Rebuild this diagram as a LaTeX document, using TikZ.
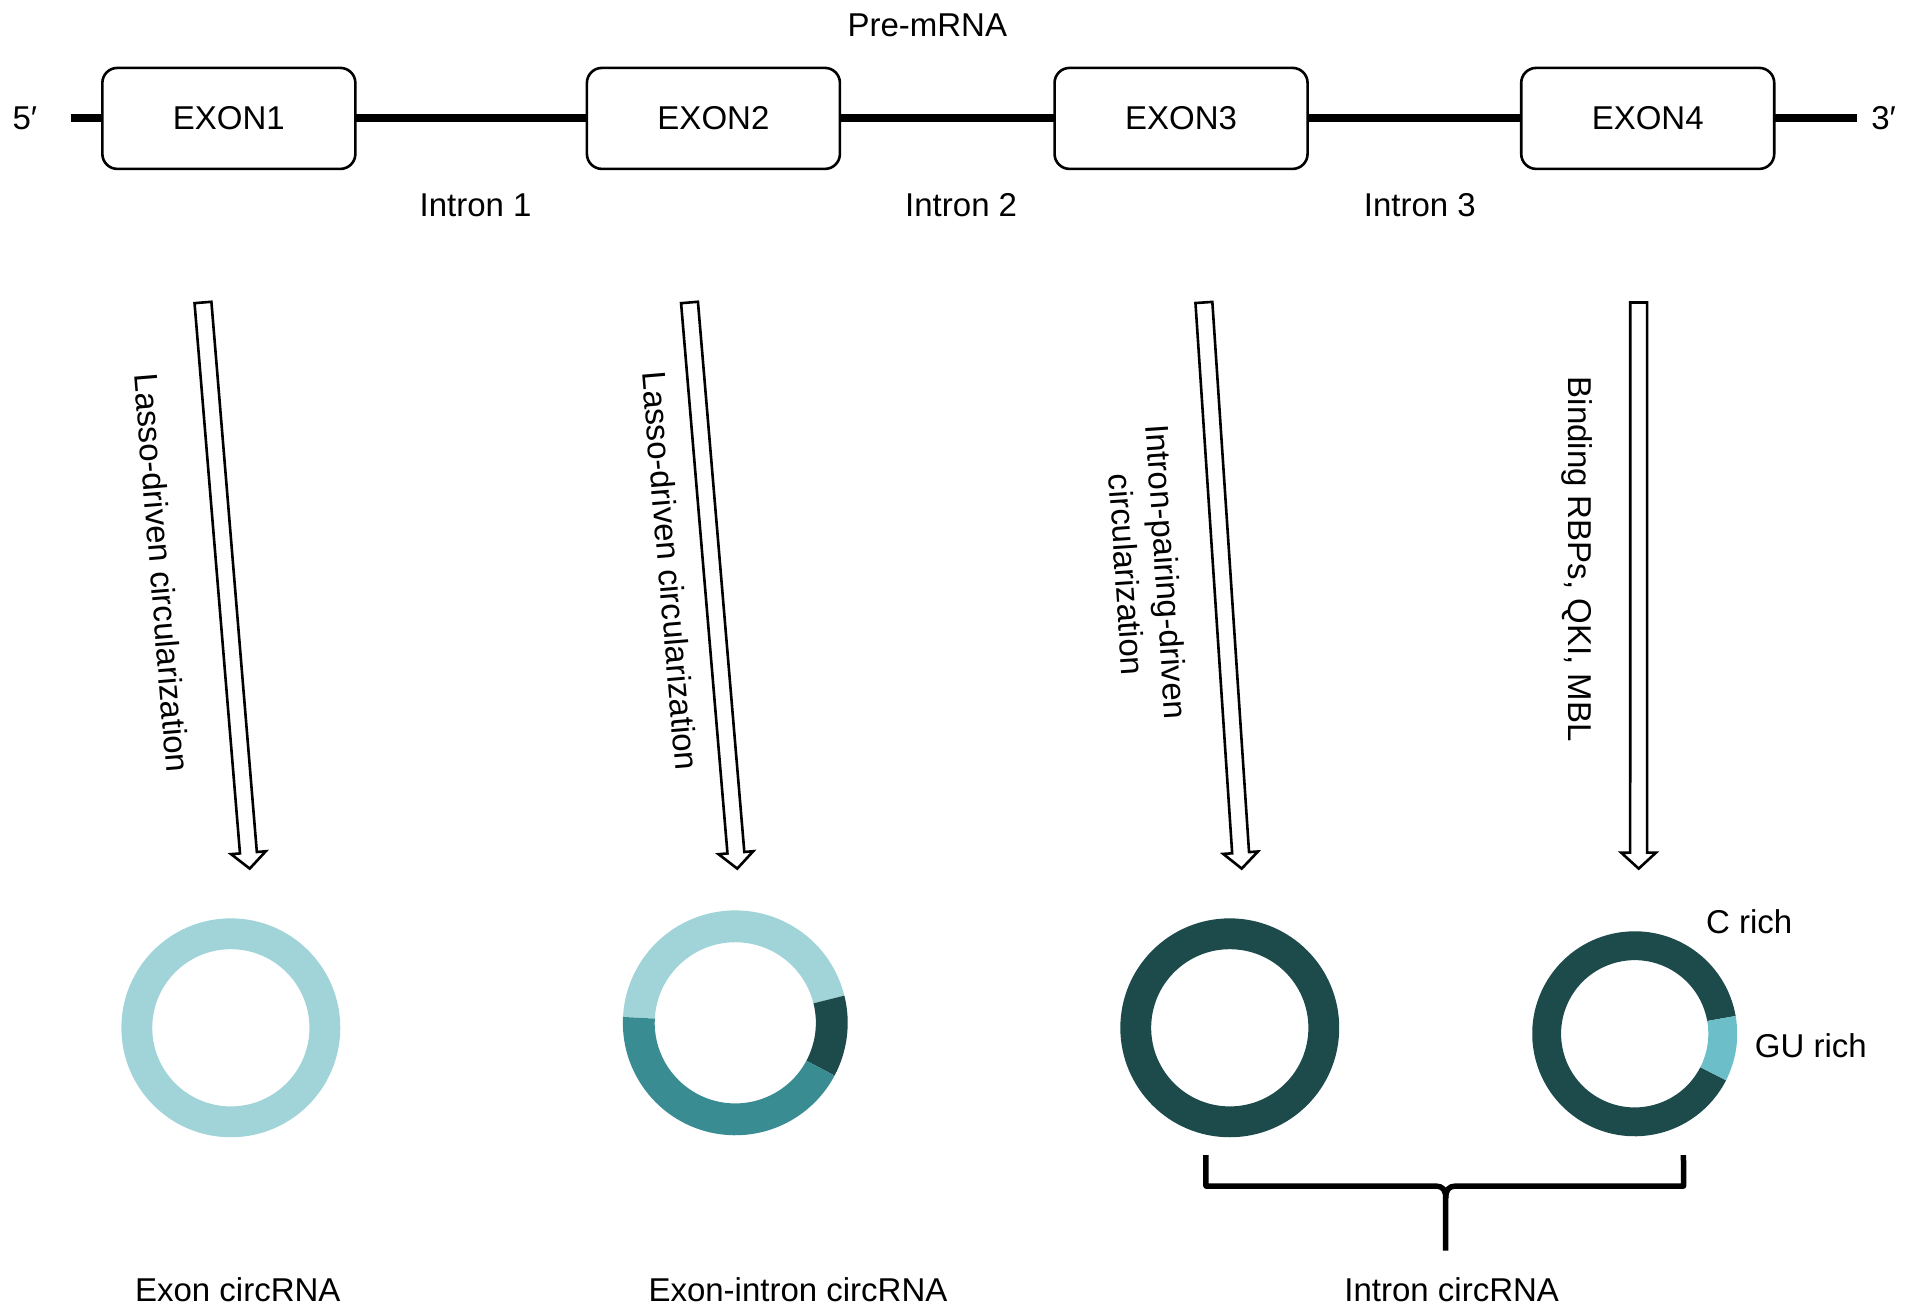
\documentclass[tikz,border=0pt]{standalone}
\usepackage{fontspec}
\setmainfont{Liberation Sans}
\usetikzlibrary{calc}
\definecolor{lightteal}{HTML}{A0D4D9}
\definecolor{midteal}{HTML}{3A8C93}
\definecolor{darkteal}{HTML}{1D4A4B}
\definecolor{gucol}{HTML}{6CBFC8}
\newcommand{\ringseg}[6]{%
  \fill[#6] ($(#1)+(#4:#2)$) arc[start angle=#4, end angle=#5, radius=#2]
    -- ($(#1)+(#5:#3)$) arc[start angle=#5, end angle=#4, radius=#3] -- cycle;}
\newcommand{\harrow}[2]{%
  \coordinate (hh) at ($(#2)!16pt!(#1)$);
  \draw[hollowarrow] ($(#1)!8.5pt!90:(#2)$) -- ($(hh)!8.5pt!90:(#2)$)
    -- ($(hh)!17.5pt!90:(#2)$) -- (#2) -- ($(hh)!17.5pt!-90:(#2)$)
    -- ($(hh)!8.5pt!-90:(#2)$) -- ($(#1)!8.5pt!-90:(#2)$) -- cycle;}
\tikzset{
  lbl/.style={font=\fontsize{33}{40}\selectfont, inner sep=0pt, align=center},
  exonbox/.style={draw, line width=2.6pt, rounded corners=15pt, minimum width=253pt,
    minimum height=101pt, inner sep=0pt, font=\fontsize{33}{40}\selectfont, fill=white},
  hollowarrow/.style={draw, line width=2.6pt, fill=white, line join=miter},
  backbone/.style={line width=8pt},
  bracket/.style={line width=5.5pt, line join=round}
}
\begin{document}
\begin{tikzpicture}[x=1pt, y=-1pt]
\useasboundingbox (0,0) rectangle (1913,1315);
\begin{scope}[scale=0.995]
% backbone
\coordinate (b5) at (71,119);
\coordinate (b3) at (1866,119);
\draw[backbone] (b5) -- (b3);
\node[lbl] (p5) at (25,119) {5′};
\node[lbl] (p3) at (1893,119) {3′};
\node[lbl] (pre) at (932,25) {Pre-mRNA};
\node[exonbox] (e1) at (230,119) {EXON1};
\node[exonbox] (e2) at (717,119) {EXON2};
\node[exonbox] (e3) at (1187,119) {EXON3};
\node[exonbox] (e4) at (1656,119) {EXON4};
\node[lbl] (i1) at (478,206) {Intron 1};
\node[lbl] (i2) at (966,206) {Intron 2};
\node[lbl] (i3) at (1427,206) {Intron 3};
% arrows
\coordinate (a1s) at (204,304); \coordinate (a1t) at (251,873);
\coordinate (a2s) at (693,304); \coordinate (a2t) at (741,873);
\coordinate (a3s) at (1210,304); \coordinate (a3t) at (1248,873);
\coordinate (a4s) at (1647,304); \coordinate (a4t) at (1647,873);
\harrow{a1s}{a1t}
\harrow{a2s}{a2t}
\harrow{a3s}{a3t}
\harrow{a4s}{a4t}
\node[lbl, rotate=-85.3] (t1) at (163,576) {Lasso-driven circularization};
\node[lbl, rotate=-85.2] (t2) at (674,574) {Lasso-driven circularization};
\node[lbl, rotate=-86.2] (t3) at (1153,576) {Intron-pairing-driven\\circularization};
\node[lbl, rotate=-90] (t4) at (1585,562) {Binding RBPs, QKI, MBL};
% circles
\coordinate (c1) at (232,1033);
\coordinate (c2) at (739,1028);
\coordinate (c3) at (1236,1033);
\coordinate (c4) at (1643,1039);
\fill[lightteal, even odd rule] (c1) circle[radius=110] (c1) circle[radius=79];
\ringseg{c2}{113}{81}{-14}{-177}{lightteal}
\ringseg{c2}{113}{81}{28}{-14}{darkteal}
\ringseg{c2}{113}{81}{183}{28}{midteal}
\fill[darkteal, even odd rule] (c3) circle[radius=110] (c3) circle[radius=79];
\ringseg{c4}{103}{74}{350}{27}{darkteal}
\ringseg{c4}{103}{74}{27}{-10}{gucol}
\node[lbl] (crich) at (1758,926) {C rich};
\node[lbl] (gurich) at (1820,1051) {GU rich};
% bracket
\coordinate (bl) at (1212,1161);
\coordinate (br) at (1692,1161);
\coordinate (bm) at (1453,1192);
\coordinate (bs) at (1453,1257);
\draw[bracket] (bl) -- (1212,1192) -- (1443,1192) .. controls (1450,1192) and (1453,1196) .. (1453,1204) -- (bs);
\draw[bracket] (br) -- (1692,1192) -- (1463,1192) .. controls (1456,1192) and (1453,1196) .. (1453,1204);
% bottom labels
\node[lbl] (l1) at (239,1296) {Exon circRNA};
\node[lbl] (l2) at (802,1296) {Exon-intron circRNA};
\node[lbl] (l3) at (1459,1296) {Intron circRNA};
\end{scope}
\end{tikzpicture}
\end{document}
